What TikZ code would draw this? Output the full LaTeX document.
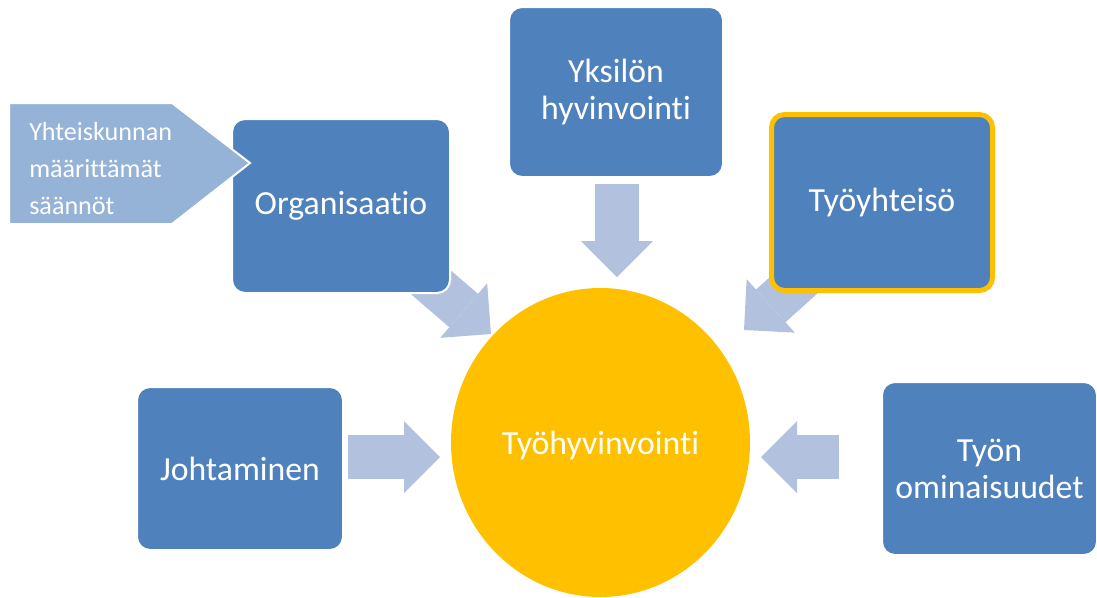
\documentclass[tikz,border=0pt]{standalone}
\usepackage{fontspec}
\setmainfont{Carlito}[Ligatures=NoCommon]
\usetikzlibrary{shapes.geometric,arrows.meta,calc,backgrounds}
\definecolor{boxblue}{HTML}{4F81BD}
\definecolor{ruleblue}{HTML}{95B3D7}
\definecolor{flowblue}{HTML}{B2C2DE}
\definecolor{sunyellow}{HTML}{FFC000}
\tikzset{
  factor/.style={rectangle, rounded corners=9.75pt, fill=boxblue, draw=white,
    line width=1.5pt, text=white, align=center, inner sep=0pt,
    font=\fontsize{25.3}{27.75}\selectfont},
  flow/.style={draw=flowblue, line width=33pt,
    -{Triangle[width=54pt 0, length=27pt 0, line width=0pt 0]}},
}

\begin{document}
\begin{tikzpicture}[x=0.75pt, y=-0.75pt]
\useasboundingbox (0,0) rectangle (1097,597);
\node[factor, minimum width=163.5pt, minimum height=130.5pt] (organisaatio) at (341,206) {Organisaatio};
\node[factor, minimum width=160.5pt, minimum height=127.5pt] (yksilo) at (616,92) {Yksilön\\hyvinvointi};
\node[factor, draw=sunyellow, line width=3.75pt, minimum width=165.75pt, minimum height=132pt] (tyoyhteiso) at (882,202.5) {Työyhteisö};
\node[factor, minimum width=154.5pt, minimum height=122.25pt] (johtaminen) at (240,468.5) {Johtaminen};
\node[factor, minimum width=161.25pt, minimum height=129.75pt] (tyon) at (989.5,468.5) {Työn\\ominaisuudet};
\node[ellipse, fill=sunyellow, minimum width=224.25pt, minimum height=231.75pt, inner sep=0pt,
  text depth=0pt, text=white, font=\fontsize{25.3}{27.75}\selectfont] (hyvinvointi) at (600.5,442.5) {Työhyvinvointi};
\filldraw[fill=ruleblue, draw=white, line width=1.5pt] (9,103) -- (172,103) -- (250,163) -- (172,224) -- (9,224) -- cycle;
\node[anchor=west, align=left, inner sep=0pt, text=white, font=\fontsize{19.6}{27.75}\selectfont] (saannot) at (29,169) {Yhteiskunnan\\määrittämät\\säännöt};
\coordinate (tipW) at (440,457);
\coordinate (tipN) at (617,277);
\coordinate (tipE) at (761,457);
\coordinate (tipNW) at (491,334);
\coordinate (tipNE) at (744,330);
\begin{scope}[on background layer]
\draw[flow] ($(johtaminen.east)+(4,-11.5)$) -- (tipW);
\draw[flow] ($(yksilo.south)+(1,6)$) -- (tipN);
\draw[flow] ($(tyon.west)+(-42,-11.5)$) -- (tipE);
\draw[flow] ($(organisaatio.south east)+(-31,-21)$) -- (tipNW);
\draw[flow] ($(tyoyhteiso.south west)+(46,-27)$) -- (tipNE);
\end{scope}
\end{tikzpicture}
\end{document}
